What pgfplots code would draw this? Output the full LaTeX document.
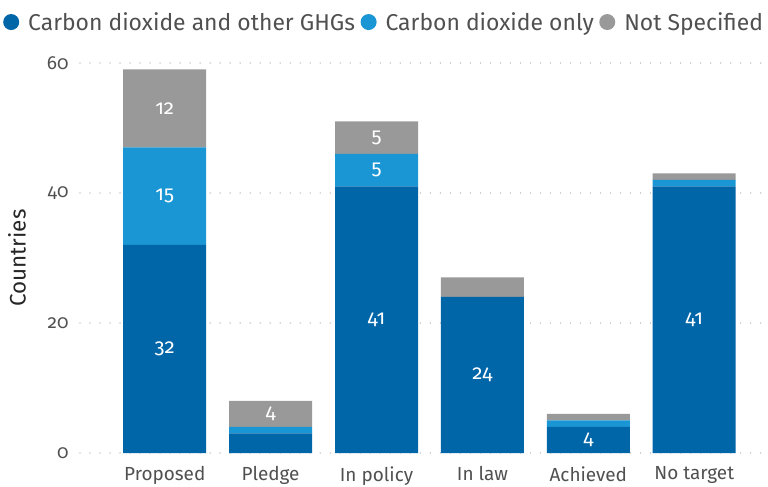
\documentclass[border=0pt]{standalone}
\usepackage{fontspec}
\setmainfont{Fira Sans}[Numbers=OldStyle]
\usepackage{pgfplots}
\pgfplotsset{compat=1.18}

\definecolor{cdark}{HTML}{0066A8}
\definecolor{clight}{HTML}{1A96D4}
\definecolor{cgrey}{HTML}{999999}
\definecolor{ctext}{HTML}{505050}

\pgfplotsset{
    frame/.style={scale only axis, width=682bp, height=390bp,
        xmin=-0.8, xmax=5.64, ymin=0, ymax=60},
}

\begin{document}
\begin{tikzpicture}
\begin{axis}[
    frame,
    ybar stacked,
    bar width=83bp,
    ytick={0,20,40,60},
    xtick=data,
    xticklabels={Proposed,Pledge,In policy,In law,Achieved,No target},
    /pgf/number format/assume math mode=true,
    axis line style={draw=none},
    major tick length=0pt,
    ymajorgrids,
    grid style={draw=black!20, line width=1.6bp, dash pattern=on 0.01bp off 10bp, line cap=round},
    tick label style={font=\fontsize{19}{22}\selectfont, text=ctext},
    yticklabel style={xshift=-8bp},
    xticklabel style={yshift=-10bp},
    ylabel={Countries},
    ylabel style={font=\fontsize{22.5}{26}\selectfont, text=black!85, yshift=14bp},
    legend columns=-1,
    legend style={at={(-0.1129,1.105)}, anchor=west, draw=none, fill=none,
        inner sep=0pt, font=\fontsize{23}{27}\selectfont, text=ctext,
        /tikz/every even column/.append style={column sep=3.5bp}},
    legend image code/.code={\fill (8bp,0bp) circle (8bp); \path (23bp,0bp);},
]
\addplot[fill=cdark, draw=none] coordinates {
    (0,32) (1,3) (2,41) (3,24) (4,4) (5,41)};
\addlegendentry{Carbon dioxide and other GHGs}
\addplot[fill=clight, draw=none] coordinates {
    (0,15) (1,1) (2,5) (3,0) (4,1) (5,1)};
\addlegendentry{Carbon dioxide only}
\addplot[fill=cgrey, draw=none] coordinates {
    (0,12) (1,4) (2,5) (3,3) (4,1) (5,1)};
\addlegendentry{Not Specified}
\coordinate (sw) at (rel axis cs:0,0);
\coordinate (ne) at (rel axis cs:1,1);
\end{axis}
% segment labels at the middle of each labelled segment
\begin{axis}[
    frame, hide axis,
    point meta=explicit symbolic,
    nodes near coords={\pgfplotspointmeta},
    every node near coord/.append style={anchor=center, text=white,
        font=\fontsize{20.5}{24}\selectfont},
]
\addplot[draw=none, mark=none] coordinates {
    (0,16) [32] (0,39.5) [15] (0,53) [12]
    (1,6) [4]
    (2,20.5) [41] (2,43.5) [5] (2,48.5) [5]
    (3,12) [24]
    (4,2) [4]
    (5,20.5) [41]};
\end{axis}
\pgfresetboundingbox
\path[use as bounding box] ([shift={(-80bp,-34bp)}]sw) rectangle ([shift={(6bp,63bp)}]ne);
\end{tikzpicture}
\end{document}
